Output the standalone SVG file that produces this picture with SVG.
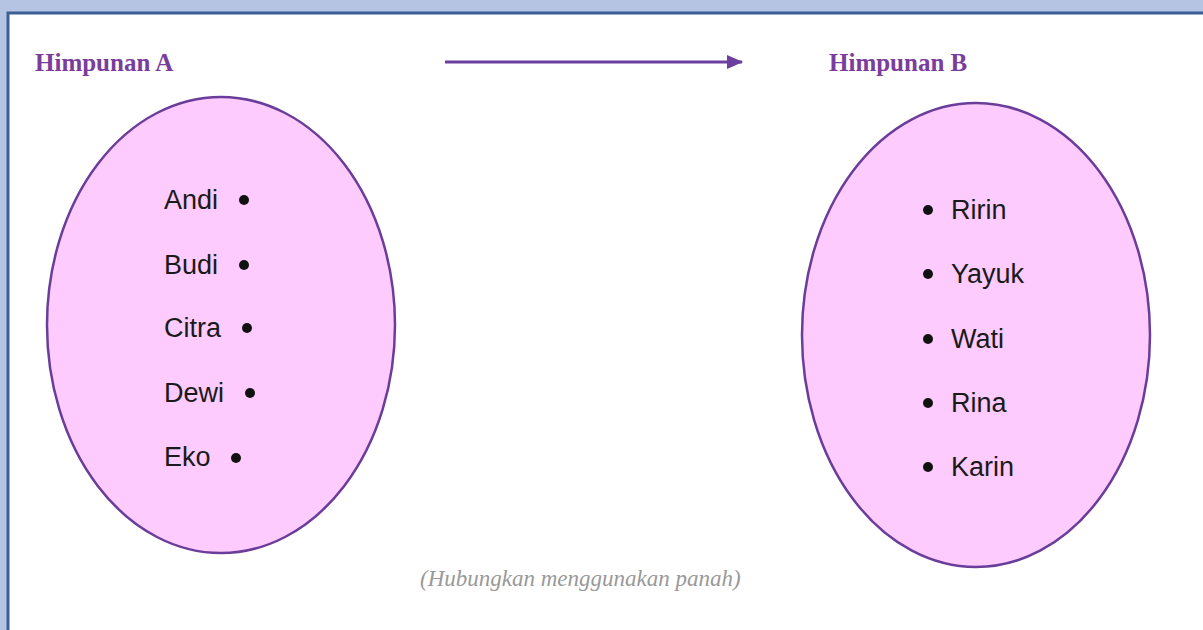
<svg xmlns="http://www.w3.org/2000/svg" width="1203" height="630" viewBox="0 0 1203 630">
<defs>
<style>
.title{font-family:"Liberation Serif",serif;font-weight:bold;font-size:25px;fill:#7a3d9c}
.item{font-family:"Liberation Sans",Arial,sans-serif;font-size:27px;fill:#1a1a1a}
.set{fill:#fdcbfd;stroke:#6a3d9a;stroke-width:2.5}
.dot{fill:#111}
.note{font-family:"Liberation Serif",serif;font-style:italic;font-size:23px;fill:#999}
</style>
<marker id="ah" markerWidth="16" markerHeight="14" refX="15" refY="7" orient="auto" markerUnits="userSpaceOnUse" viewBox="0 0 16 14">
<path d="M0,0 L16,7 L0,14 z" fill="#6b3fa0"/>
</marker>
</defs>
<rect x="0" y="0" width="1203" height="630" fill="#b4c4e2"/>
<rect x="8" y="13" width="1200" height="625" fill="#ffffff" stroke="#3a5f96" stroke-width="3"/>
<g id="setA">
<text class="title" x="35" y="71">Himpunan A</text>
<ellipse class="set" cx="221" cy="325" rx="174" ry="228"/>
<text class="item" x="164" y="209">Andi</text><circle class="dot" cx="244" cy="200" r="5"/>
<text class="item" x="164" y="274">Budi</text><circle class="dot" cx="244" cy="265" r="5"/>
<text class="item" x="164" y="337">Citra</text><circle class="dot" cx="247" cy="328" r="5"/>
<text class="item" x="164" y="402">Dewi</text><circle class="dot" cx="250" cy="393" r="5"/>
<text class="item" x="164" y="466">Eko</text><circle class="dot" cx="236" cy="458" r="5"/>
</g>
<g id="setB">
<text class="title" x="829" y="71">Himpunan B</text>
<ellipse class="set" cx="976" cy="335" rx="174" ry="232"/>
<circle class="dot" cx="928" cy="210" r="5"/><text class="item" x="951" y="219">Ririn</text>
<circle class="dot" cx="928" cy="274" r="5"/><text class="item" x="951" y="283">Yayuk</text>
<circle class="dot" cx="928" cy="339" r="5"/><text class="item" x="951" y="348">Wati</text>
<circle class="dot" cx="928" cy="403" r="5"/><text class="item" x="951" y="412">Rina</text>
<circle class="dot" cx="928" cy="467" r="5"/><text class="item" x="951" y="476">Karin</text>
</g>
<g id="connectors">
<line x1="445" y1="62" x2="742" y2="62" stroke="#6b3fa0" stroke-width="3" marker-end="url(#ah)"/>
</g>
<text class="note" x="420" y="586">(Hubungkan menggunakan panah)</text>
</svg>
